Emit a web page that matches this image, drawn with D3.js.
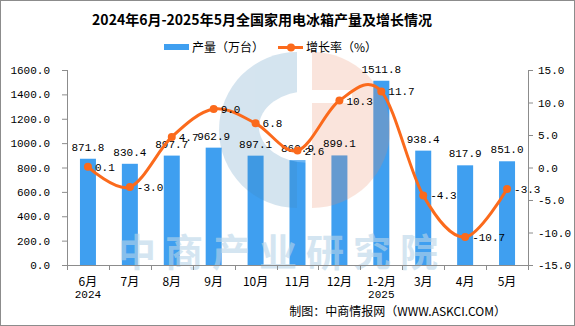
<!DOCTYPE html>
<html>
<head>
<meta charset="utf-8">
<script src="https://cdn.jsdelivr.net/npm/d3@7/dist/d3.min.js"></script>
<style>
  body { margin: 0; background: #fff; }
  svg text { font-family: "Liberation Mono", "Noto Sans CJK SC", monospace; }
</style>
</head>
<body>
<svg width="575" height="326"></svg>
<script>
var categories = ["6月", "7月", "8月", "9月", "10月", "11月", "12月", "1-2月", "3月", "4月", "5月"];
var yearLabels = ["2024", "", "", "", "", "", "", "2025", "", "", ""];
var production = [871.8, 830.4, 897.7, 962.9, 897.1, 860.9, 899.1, 1511.8, 938.4, 817.9, 851.0];
var growth = [0.1, -3.0, 4.7, 9.0, 6.8, 2.6, 10.3, 11.7, -4.3, -10.7, -3.3];
var leftTicks = [0, 200, 400, 600, 800, 1000, 1200, 1400, 1600];
var rightTicks = [-15, -10, -5, 0, 5, 10, 15];

var barColor = "#3f9ff0", lineColor = "#fb6a1c";
var cjk = "'Noto Sans CJK SC', sans-serif";

var svg = d3.select("svg"),
	margin = { top: 70, right: 47, bottom: 61, left: 67 },
	width = +svg.attr("width") - margin.left - margin.right,
	height = +svg.attr("height") - margin.top - margin.bottom;

// frame
svg.append("rect")
	.attr("x", 0.5).attr("y", 0.5)
	.attr("width", 574).attr("height", 325)
	.attr("fill", "#fff").attr("stroke", "#8c8c8c");

// title
svg.append("text")
	.attr("x", 262).attr("y", 25)
	.attr("text-anchor", "middle")
	.style("font-family", cjk)
	.style("font-weight", "bold")
	.style("font-size", "14px")
	.text("2024年6月-2025年5月全国家用电冰箱产量及增长情况");

// legend
var lg = svg.append("g");
lg.append("rect").attr("x", 164).attr("y", 44).attr("width", 25).attr("height", 6).attr("fill", barColor);
lg.append("text").attr("x", 192).attr("y", 52).style("font-family", cjk).style("font-size", "12px").text("产量（万台）");
lg.append("line").attr("x1", 278).attr("x2", 303).attr("y1", 47.5).attr("y2", 47.5)
	.attr("stroke", lineColor).attr("stroke-width", 3);
lg.append("circle").attr("cx", 291).attr("cy", 47.5).attr("r", 4).attr("fill", lineColor);
lg.append("text").attr("x", 306).attr("y", 52).style("font-family", cjk).style("font-size", "12px").text("增长率（%）");

var g = svg.append("g")
	.attr("transform", "translate(" + margin.left + "," + margin.top + ")");

// scales
var x = d3.scaleBand().domain(categories).range([0, width]);
var y = d3.scaleLinear().domain([0, 1600]).range([height, 0]);
var y2 = d3.scaleLinear().domain([-15, 15]).range([height, 0]);

var barW = 16;

// bars
g.selectAll(".bar")
	.data(production)
	.enter().append("rect")
	.attr("x", function(d, i) { return x(categories[i]) + x.bandwidth() / 2 - barW / 2; })
	.attr("y", function(d) { return y(d); })
	.attr("width", barW)
	.attr("height", function(d) { return height - y(d); })
	.attr("fill", barColor);

// watermark logo
var logo = g.append("g").attr("opacity", 0.22);
var cx = 289 - margin.left, cy = 130 - margin.top, r = 78;
logo.append("path")
	.attr("d", "M" + (cx + 8) + "," + (cy - r) + " A" + r + "," + r + " 0 0,0 " + (cx + 8) + "," + (cy + r) + " Z")
	.attr("fill", "#3f86b8");
logo.append("ellipse")
	.attr("cx", cx + 20).attr("cy", cy - 3).attr("rx", 50).attr("ry", 36)
	.attr("fill", "#fff");
logo.append("path")
	.attr("d", "M" + (cx + 23) + "," + (cy - r) + " A" + r + "," + r + " 0 0,1 " + (cx + 23) + "," + (cy + r) + " Z")
	.attr("fill", "#ec8a62");
logo.append("rect")
	.attr("x", cx + 23).attr("y", cy - 40).attr("width", 40).attr("height", 13)
	.attr("fill", "#fff");

g.append("text")
	.attr("x", 118 - margin.left).attr("y", 266 - margin.top)
	.style("font-family", cjk)
	.style("font-weight", "bold")
	.style("font-size", "38px")
	.style("letter-spacing", "9px")
	.attr("fill", "#b9d5e8")
	.attr("opacity", 0.6)
	.text("中商产业研究院");

// bar labels
g.selectAll(".blab")
	.data(production)
	.enter().append("text")
	.attr("x", function(d, i) { return x(categories[i]) + x.bandwidth() / 2; })
	.attr("y", function(d) { return y(d) - 8; })
	.attr("text-anchor", "middle")
	.style("font-size", "11px")
	.text(function(d) { return d.toFixed(1); });

// growth line
var line = d3.line()
	.x(function(d, i) { return x(categories[i]) + x.bandwidth() / 2; })
	.y(function(d) { return y2(d); })
	.curve(d3.curveCardinal.tension(0));

g.append("path")
	.datum(growth)
	.attr("d", line)
	.attr("fill", "none")
	.attr("stroke", lineColor)
	.attr("stroke-width", 3);

g.selectAll(".dot")
	.data(growth)
	.enter().append("circle")
	.attr("cx", function(d, i) { return x(categories[i]) + x.bandwidth() / 2; })
	.attr("cy", function(d) { return y2(d); })
	.attr("r", 4)
	.attr("fill", lineColor);

g.selectAll(".glab")
	.data(growth)
	.enter().append("text")
	.attr("x", function(d, i) { return x(categories[i]) + x.bandwidth() / 2 + 7; })
	.attr("y", function(d) { return y2(d) + 4; })
	.style("font-size", "11px")
	.text(function(d) { return d.toFixed(1); });

// axes
var axisStyle = function(sel) {
	sel.selectAll("path, line").attr("stroke", "#8c8c8c");
	sel.selectAll("text").attr("fill", "#000").style("font-size", "11px")
		.style("font-family", "'Liberation Mono', monospace");
};

g.append("g")
	.call(d3.axisLeft(y).tickValues(leftTicks).tickSizeOuter(0).tickSize(5).tickPadding(12)
		.tickFormat(function(d) { return d.toFixed(1); }))
	.call(axisStyle)
	.select(".domain").attr("d", "M0.5," + height + "V0");

g.append("g")
	.attr("transform", "translate(" + width + ",0)")
	.call(d3.axisRight(y2).tickValues(rightTicks).tickSizeOuter(0).tickSize(5).tickPadding(5)
		.tickFormat(function(d) { return d.toFixed(1); }))
	.call(axisStyle)
	.select(".domain").attr("d", "M0.5," + height + "V0");

var xa = g.append("g").attr("transform", "translate(0," + height + ")");
xa.append("line").attr("x1", 0).attr("x2", width).attr("y1", 0.5).attr("y2", 0.5).attr("stroke", "#8c8c8c");
xa.selectAll(".xt")
	.data(d3.range(categories.length + 1))
	.enter().append("line")
	.attr("x1", function(i) { return Math.round(i * x.step()) + 0.5; })
	.attr("x2", function(i) { return Math.round(i * x.step()) + 0.5; })
	.attr("y1", 0).attr("y2", 5)
	.attr("stroke", "#8c8c8c");
xa.selectAll(".xl")
	.data(categories)
	.enter().append("text")
	.attr("x", function(d) { return x(d) + x.bandwidth() / 2; })
	.attr("y", 21)
	.attr("text-anchor", "middle")
	.style("font-family", cjk)
	.style("font-size", "12px")
	.text(function(d) { return d; });
xa.selectAll(".yl")
	.data(yearLabels)
	.enter().append("text")
	.attr("x", function(d, i) { return x(categories[i]) + x.bandwidth() / 2; })
	.attr("y", 33)
	.attr("text-anchor", "middle")
	.style("font-size", "11px")
	.text(function(d) { return d; });

// source
svg.append("text")
	.attr("x", 506).attr("y", 316)
	.attr("text-anchor", "end")
	.style("font-family", cjk)
	.style("font-size", "12px")
	.text("制图：中商情报网（WWW.ASKCI.COM）");
</script>
</body>
</html>
